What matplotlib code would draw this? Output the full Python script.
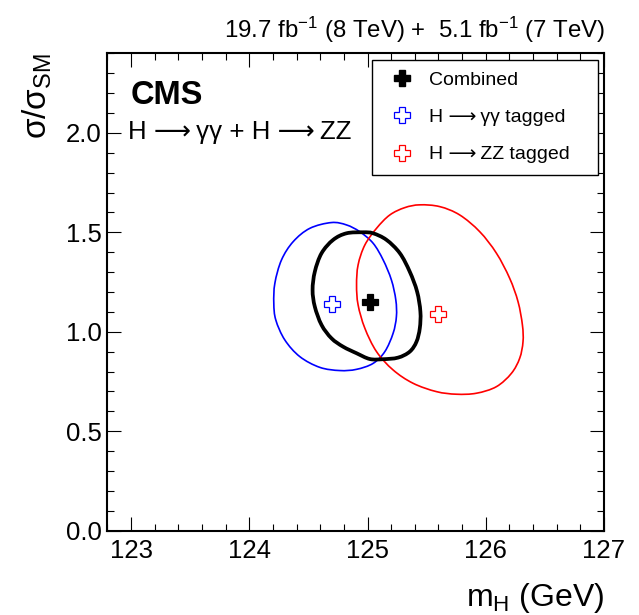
import matplotlib
matplotlib.use('Agg')
import numpy as np
import matplotlib.pyplot as plt
from matplotlib.lines import Line2D
from matplotlib.path import Path
from matplotlib.patches import PathPatch
from matplotlib.ticker import MultipleLocator

plt.rcParams['font.family'] = ['Liberation Sans', 'DejaVu Sans']
plt.rcParams['mathtext.fontset'] = 'custom'
plt.rcParams['mathtext.rm'] = 'Liberation Sans'
plt.rcParams['mathtext.default'] = 'regular'

# best-fit points (m_H in GeV, sigma/sigma_SM)
comb_best = (125.02, 1.15)
gg_best = (124.70, 1.14)
zz_best = (125.60, 1.09)

# 68% CL contours
gg_x = [124.695, 124.822, 124.934, 125.047, 125.132, 125.202, 125.239, 125.244,
        125.216, 125.146, 125.047, 124.906, 124.765, 124.596, 124.427, 124.300,
        124.224, 124.207, 124.216, 124.272, 124.371, 124.512]
gg_y = [1.549, 1.537, 1.503, 1.445, 1.361, 1.260, 1.160, 1.076,
        0.992, 0.900, 0.841, 0.811, 0.805, 0.821, 0.875, 0.959,
        1.059, 1.143, 1.244, 1.361, 1.453, 1.520]

comb_x = [124.962, 125.047, 125.160, 125.273, 125.357, 125.419, 125.447, 125.442,
          125.414, 125.357, 125.258, 125.131, 125.019, 124.907, 124.793, 124.695,
          124.611, 124.554, 124.535, 124.554, 124.611, 124.709, 124.822]
comb_y = [1.500, 1.495, 1.462, 1.395, 1.302, 1.202, 1.101, 1.018,
          0.950, 0.900, 0.870, 0.862, 0.863, 0.892, 0.925, 0.967,
          1.034, 1.126, 1.210, 1.302, 1.395, 1.462, 1.495]

zz_x = [125.442, 125.611, 125.780, 125.949, 126.090, 126.202, 126.273, 126.310,
        126.315, 126.287, 126.217, 126.090, 125.921, 125.752, 125.583, 125.385,
        125.216, 125.076, 124.977, 124.920, 124.907, 124.920, 124.977, 125.076,
        125.188, 125.315]
zz_y = [1.638, 1.629, 1.587, 1.503, 1.395, 1.269, 1.151, 1.034,
        0.950, 0.867, 0.791, 0.724, 0.691, 0.686, 0.699, 0.741,
        0.808, 0.900, 1.018, 1.135, 1.235, 1.336, 1.436, 1.520,
        1.587, 1.624]


def smooth_closed_path(xs, ys):
    # closed curve through the read points, drawn as cubic bezier segments
    p = np.column_stack([xs, ys])
    n = len(p)
    verts = [p[0]]
    codes = [Path.MOVETO]
    for i in range(n):
        p0, p1, p2, p3 = p[i - 1], p[i], p[(i + 1) % n], p[(i + 2) % n]
        verts += [p1 + (p2 - p0) / 6.0, p2 - (p3 - p1) / 6.0, p2]
        codes += [Path.CURVE4] * 3
    return Path(verts, codes)


fig = plt.figure(figsize=(6.39, 6.15), dpi=100)
ax = fig.add_axes([0.1682, 0.1371, 0.7770, 0.7763])

ax.add_patch(PathPatch(smooth_closed_path(gg_x, gg_y), fill=False,
                       edgecolor='#0000ff', lw=1.2))
ax.add_patch(PathPatch(smooth_closed_path(zz_x, zz_y), fill=False,
                       edgecolor='#ff0000', lw=1.2))
ax.add_patch(PathPatch(smooth_closed_path(comb_x, comb_y), fill=False,
                       edgecolor='black', lw=2.7))

ax.plot(*gg_best, marker='P', ms=12, mfc='white', mec='#0000ff', mew=0.9, ls='none')
ax.plot(*zz_best, marker='P', ms=12, mfc='white', mec='#ff0000', mew=0.9, ls='none')
ax.plot(*comb_best, marker='P', ms=12, mfc='black', mec='black', mew=0.9, ls='none')

ax.set_xlim(122.8, 127)
ax.set_ylim(0, 2.4)
ax.xaxis.set_major_locator(MultipleLocator(1))
ax.xaxis.set_minor_locator(MultipleLocator(0.2))
ax.yaxis.set_major_locator(MultipleLocator(0.5))
ax.yaxis.set_minor_locator(MultipleLocator(0.1))
ax.tick_params(which='both', direction='in', top=True, right=True, width=0.8,
               labelsize=18.5)
ax.tick_params(which='major', length=10)
ax.tick_params(which='minor', length=5)
ax.tick_params(axis='x', pad=6)
ax.tick_params(axis='y', pad=4)
ax.yaxis.set_major_formatter(plt.FuncFormatter(lambda v, p: '%.1f' % v))
for s in ax.spines.values():
    s.set_linewidth(1.5)

ax.set_xlabel('m$_{H}$ (GeV)', fontsize=23, loc='right', va='baseline')
ax.xaxis.set_label_coords(1.0, -0.158)
ax.set_ylabel('σ/σ$_{SM}$', fontsize=24, loc='top', va='baseline')
ax.yaxis.set_label_coords(-0.122, 1.0)

arrow = ' ⟶\u2009'
fig.text(0.947, 0.938, '19.7 fb$^{-1}$ (8 TeV) +  5.1 fb$^{-1}$ (7 TeV)',
         ha='right', va='baseline', fontsize=17.3)
ax.text(0.047, 0.894, 'CMS', fontsize=23.5, fontweight='bold',
        transform=ax.transAxes, va='baseline')
ax.text(0.041, 0.820, 'H' + arrow + 'γγ + H' + arrow + 'ZZ', fontsize=18.6,
        transform=ax.transAxes, va='baseline')

handles = [
    Line2D([], [], marker='P', ms=11, mfc='black', mec='black', ls='none'),
    Line2D([], [], marker='P', ms=11, mfc='white', mec='#0000ff', mew=0.9, ls='none'),
    Line2D([], [], marker='P', ms=11, mfc='white', mec='#ff0000', mew=0.9, ls='none'),
]
labels = ['Combined', 'H' + arrow + 'γγ tagged', 'H' + arrow + 'ZZ tagged']
leg = ax.legend(handles, labels, loc='upper left', mode='expand',
                bbox_to_anchor=(0.532, 0.745, 0.4565, 0.241),
                fontsize=14, fancybox=False, framealpha=1, edgecolor='black',
                borderpad=0.6, labelspacing=1.0, handlelength=1.9,
                handletextpad=0.45, borderaxespad=0)
leg.get_frame().set_linewidth(1.0)

fig.savefig('out.png', dpi=100)
